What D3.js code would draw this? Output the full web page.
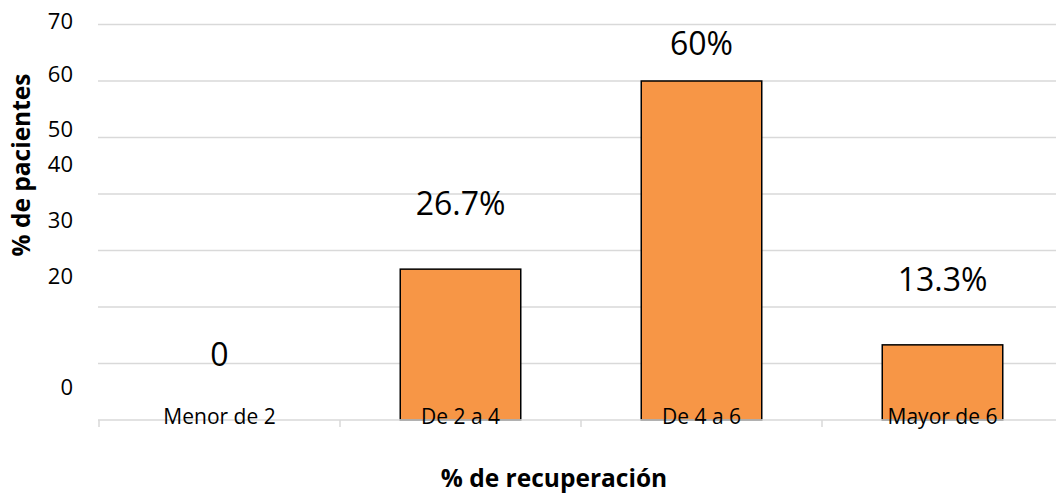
<!DOCTYPE html>
<html>
<head>
<meta charset="utf-8">
<script src="https://cdn.jsdelivr.net/npm/d3@7/dist/d3.min.js"></script>
<style>
  body { margin: 0; background: #fff; }
  text { font-family: "Open Sans", "Noto Sans", sans-serif; fill: #000; }
</style>
</head>
<body>
<div id="container"></div>
<script>
/* DATA */
const categories = ["Menor de 2", "De 2 a 4", "De 4 a 6", "Mayor de 6"];
const values = [0, 26.7, 60, 13.3];
const valueLabels = ["0", "26.7%", "60%", "13.3%"];
const gridValues = [10, 20, 30, 40, 50, 60, 70];
// tick labels as printed, and the level on the scale where each one sits
const tickLabels = ["70", "60", "50", "40", "30", "20", "0"];
const tickLabelLevels = [70.6, 61.2, 51.5, 45.3, 35.4, 25.5, 5.7];

/* SIZE */
const W = 1056, H = 495;
const plot = {left: 99, right: 1063, top: 24.5, bottom: 420};

const svg = d3.select("#container").append("svg")
    .attr("width", W)
    .attr("height", H);

/* SCALES */
const x = d3.scaleBand().domain(categories).range([plot.left, plot.right]);
const y = d3.scaleLinear().domain([0, 70]).range([plot.bottom, plot.top]);

/* GRIDLINES */
svg.append("g")
  .selectAll("line")
  .data(gridValues)
  .join("line")
    .attr("x1", plot.left - 1)
    .attr("x2", W)
    .attr("y1", d => y(d))
    .attr("y2", d => y(d))
    .attr("stroke", "#d9d9d9")
    .attr("stroke-width", 1.5);

/* Y TICK LABELS */
svg.append("g")
  .selectAll("text")
  .data(tickLabels)
  .join("text")
    .attr("x", 73)
    .attr("y", (d, i) => y(tickLabelLevels[i]))
    .attr("dy", "0.35em")
    .attr("text-anchor", "end")
    .style("font-size", "22px")
    .text(d => d);

/* BARS */
svg.append("g")
  .selectAll("rect")
  .data(values)
  .join("rect")
    .attr("x", (d, i) => x(categories[i]) + x.bandwidth() * 0.25)
    .attr("width", x.bandwidth() * 0.5)
    .attr("y", d => y(d))
    .attr("height", d => y(0) - y(d))
    .attr("fill", "#f79646")
    .attr("stroke", d => d > 0 ? "#000" : "none")
    .attr("stroke-width", 1.5);

/* X AXIS */
const xAxis = svg.append("g")
    .attr("transform", "translate(0," + plot.bottom + ")")
    .call(d3.axisBottom(x).tickSize(0).tickFormat(""));
xAxis.select(".domain").remove();
xAxis.append("line")
    .attr("x1", plot.left - 1).attr("x2", W)
    .attr("stroke", "#d9d9d9").attr("stroke-width", 1.5);
xAxis.selectAll(".sep")
  .data(categories)
  .join("line")
    .attr("class", "sep")
    .attr("x1", d => x(d)).attr("x2", d => x(d))
    .attr("y1", 0).attr("y2", 7)
    .attr("stroke", "#d9d9d9").attr("stroke-width", 1.5);

/* CATEGORY LABELS */
svg.append("g")
  .selectAll("text")
  .data(categories)
  .join("text")
    .attr("x", d => x(d) + x.bandwidth() / 2)
    .attr("y", plot.bottom + 4)
    .attr("text-anchor", "middle")
    .style("font-size", "21px")
    .text(d => d);

/* VALUE LABELS */
svg.append("g")
  .selectAll("text")
  .data(values)
  .join("text")
    .attr("x", (d, i) => x(categories[i]) + x.bandwidth() / 2)
    .attr("y", d => Math.max(y(d) - 65, plot.top + 19))
    .attr("dy", "0.35em")
    .attr("text-anchor", "middle")
    .style("font-size", "32px")
    .text((d, i) => valueLabels[i]);

/* AXIS TITLES */
svg.append("text")
    .attr("transform", "translate(30,165) rotate(-90)")
    .attr("text-anchor", "middle")
    .style("font-size", "24.5px")
    .style("font-weight", "bold")
    .text("% de pacientes");

svg.append("text")
    .attr("x", 554)
    .attr("y", 487)
    .attr("text-anchor", "middle")
    .style("font-size", "24.5px")
    .style("font-weight", "bold")
    .text("% de recuperación");
</script>
</body>
</html>
